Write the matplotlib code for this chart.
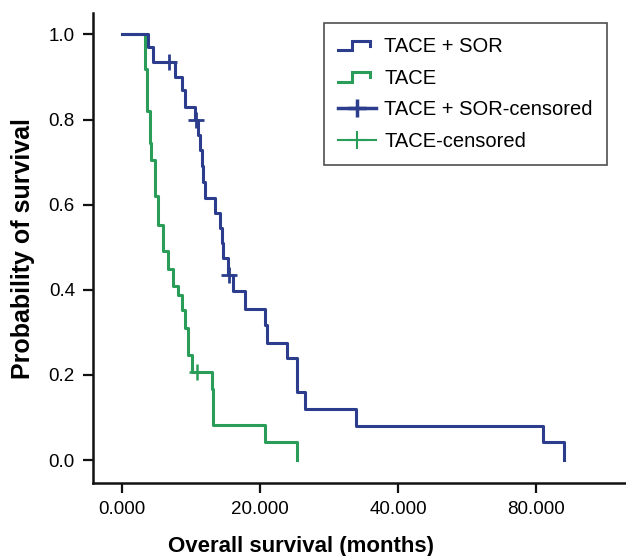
import matplotlib
matplotlib.use('Agg')
import matplotlib.pyplot as plt
from matplotlib.lines import Line2D
from matplotlib.legend_handler import HandlerBase

plt.rcParams['font.family'] = ['Liberation Sans', 'DejaVu Sans']

# Kaplan-Meier steps (time, survival after the step)
sor_t = [0, 3.86, 4.58, 7.72, 8.68, 9.2, 10.6, 11.0, 11.3, 11.55, 11.8, 12.06,
         13.5, 14.2, 14.5, 14.7, 15.4, 16.17, 17.86, 20.75, 21.0, 23.9, 25.3,
         25.4, 26.5, 33.9, 61.0, 64.0]
sor_s = [1.0, 0.971, 0.936, 0.899, 0.87, 0.829, 0.80, 0.764, 0.729, 0.69, 0.654,
         0.615, 0.58, 0.545, 0.51, 0.474, 0.435, 0.396, 0.356, 0.317, 0.274,
         0.239, 0.20, 0.16, 0.121, 0.08, 0.043, 0.0]
sor_cens_t = [6.8, 10.7, 15.5]
sor_cens_s = [0.936, 0.80, 0.435]

tace_t = [0, 3.33, 3.66, 4.03, 4.17, 4.8, 5.3, 6.0, 6.75, 7.47, 8.19, 8.68,
          9.17, 9.64, 10.12, 13.03, 13.27, 20.75, 25.34]
tace_s = [1.0, 0.92, 0.82, 0.745, 0.705, 0.62, 0.552, 0.49, 0.45, 0.41, 0.388,
          0.353, 0.31, 0.247, 0.208, 0.168, 0.082, 0.043, 0.0]
tace_cens_t = [10.86]
tace_cens_s = [0.208]

x_ticks = [0, 20, 40, 60]
x_labels = ["0.000", "20.000", "40.000", "80.000"]
y_ticks = [0.0, 0.2, 0.4, 0.6, 0.8, 1.0]
y_labels = ["0.0", "0.2", "0.4", "0.6", "0.8", "1.0"]

blue = "#2b3d8c"
green = "#2a9e58"


class StepHandler(HandlerBase):
    # 图例里画成小台阶形状
    def create_artists(self, legend, orig, xd, yd, w, h, fontsize, trans):
        xs = [xd, xd + 0.38 * w, xd + 0.38 * w, xd + 0.85 * w, xd + 0.85 * w]
        ys = [yd + 0.15 * h, yd + 0.15 * h, yd + 0.8 * h, yd + 0.8 * h, yd + 0.45 * h]
        ln = Line2D(xs, ys, color=orig.get_color(), lw=orig.get_linewidth(),
                    solid_joinstyle='miter')
        ln.set_transform(trans)
        return [ln]


fig = plt.figure(figsize=(6.26, 5.56), dpi=100)
ax = fig.add_axes([0.1486, 0.1313, 0.8514, 0.845])

l_tace, = ax.step(tace_t, tace_s, where='post', color=green, lw=2.2, zorder=2)
l_sor, = ax.step(sor_t, sor_s, where='post', color=blue, lw=2.2, zorder=3)
c_sor, = ax.plot(sor_cens_t, sor_cens_s, ls='none', marker='+', ms=11, mew=2,
                 color=blue, zorder=4)
c_tace, = ax.plot(tace_cens_t, tace_cens_s, ls='none', marker='+', ms=11, mew=1.8,
                  color=green, zorder=4)

ax.set_xlim(-4.16, 73.0)
ax.set_ylim(-0.054, 1.05)
ax.set_xticks(x_ticks)
ax.set_xticklabels(x_labels)
ax.set_yticks(y_ticks)
ax.set_yticklabels(y_labels)
ax.tick_params(labelsize=13.5, length=7, width=1.6, color='#111111', pad=6)
for side in ['top', 'right']:
    ax.spines[side].set_visible(False)
for side in ['left', 'bottom']:
    ax.spines[side].set_linewidth(1.8)
    ax.spines[side].set_color('#111111')

ax.set_xlabel("Overall survival (months)", fontsize=16, fontweight='bold')
ax.xaxis.set_label_coords(0.39, -0.112)
ax.set_ylabel("Probability of survival", fontsize=18, fontweight='bold', labelpad=10)

h_sor_c = Line2D([], [], color=blue, lw=2.5, marker='+', ms=13, mew=2.5)
h_tace_c = Line2D([], [], color=green, lw=1.5, marker='+', ms=13, mew=1.5)
leg = ax.legend([l_sor, l_tace, h_sor_c, h_tace_c],
                ["TACE + SOR", "TACE", "TACE + SOR-censored", "TACE-censored"],
                handler_map={l_sor: StepHandler(), l_tace: StepHandler()},
                loc='upper right', bbox_to_anchor=(0.964, 0.979), borderaxespad=0,
                fontsize=14.5, frameon=True, fancybox=False, handlelength=1.9,
                handletextpad=0.4, labelspacing=0.62, borderpad=0.7)
leg.get_frame().set_edgecolor('#222222')
leg.get_frame().set_linewidth(1.2)

fig.savefig("out.png", dpi=100)
